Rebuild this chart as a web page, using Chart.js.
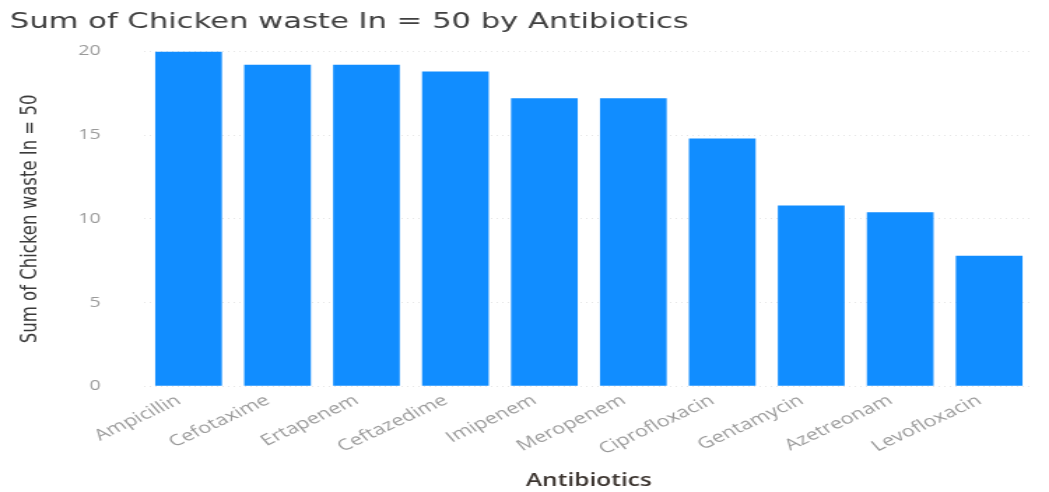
<!DOCTYPE html>
<html>
<head>
<meta charset="utf-8">
<script src="https://cdn.jsdelivr.net/npm/chart.js@4"></script>
<style>
  html, body { margin: 0; padding: 0; background: #fff; overflow: hidden; }
  #wrap { width: 750px; height: 492px; transform: scaleX(1.39867); transform-origin: 0 0; }
</style>
</head>
<body>
<div id="wrap"><canvas id="c" width="750" height="492"></canvas></div>
<script>
const categories = ["Ampicillin", "Cefotaxime", "Ertapenem", "Ceftazedime", "Imipenem", "Meropenem", "Ciprofloxacin", "Gentamycin", "Azetreonam", "Levofloxacin"];
const values = [20, 19.2, 19.2, 18.8, 17.2, 17.2, 14.8, 10.8, 10.4, 7.8];
const yTicks = [0, 5, 10, 15, 20];

new Chart(document.getElementById('c'), {
  type: 'bar',
  data: {
    labels: categories,
    datasets: [{
      data: values,
      backgroundColor: '#118DFF',
      barPercentage: 0.75,
      categoryPercentage: 1.0
    }]
  },
  options: {
    responsive: false,
    animation: false,
    layout: { padding: { left: 7, right: 11, top: 0, bottom: 0 } },
    plugins: {
      legend: { display: false },
      tooltip: { enabled: false },
      title: {
        display: true,
        text: 'Sum of Chicken waste In = 50 by Antibiotics',
        align: 'start',
        color: '#404040',
        font: { family: 'DejaVu Sans', size: 21.9, weight: 'normal', lineHeight: 1.2 },
        padding: { top: 9, bottom: 16.2 }
      }
    },
    scales: {
      x: {
        grid: { display: false },
        border: { display: false },
        ticks: {
          color: '#9a9a9a',
          font: { family: 'Open Sans', size: 15.5 },
          minRotation: 33,
          maxRotation: 33,
          padding: -3,
          labelOffset: -7
        },
        title: {
          display: true,
          text: 'Antibiotics',
          color: '#3c3530',
          font: { family: 'Open Sans', size: 17.5, weight: '600', lineHeight: 1.2 },
          padding: { top: 15.5, bottom: 0 }
        }
      },
      y: {
        min: 0,
        max: 20,
        afterBuildTicks(scale) { scale.ticks = yTicks.map(v => ({ value: v })); },
        afterFit(scale) { scale.width = 96; },
        grid: { color: '#e6e6e6', drawTicks: false },
        border: { display: false, dash: [1, 3] },
        ticks: {
          color: '#9a9a9a',
          font: { family: 'Open Sans', size: 14 },
          padding: 31
        },
        title: {
          display: true,
          text: 'Sum of Chicken waste In = 50',
          color: '#3a3a3a',
          font: { family: 'DejaVu Sans', size: 16.5, lineHeight: 1.2 },
          padding: { top: 5, bottom: 0 }
        }
      }
    }
  }
});
</script>
</body>
</html>
